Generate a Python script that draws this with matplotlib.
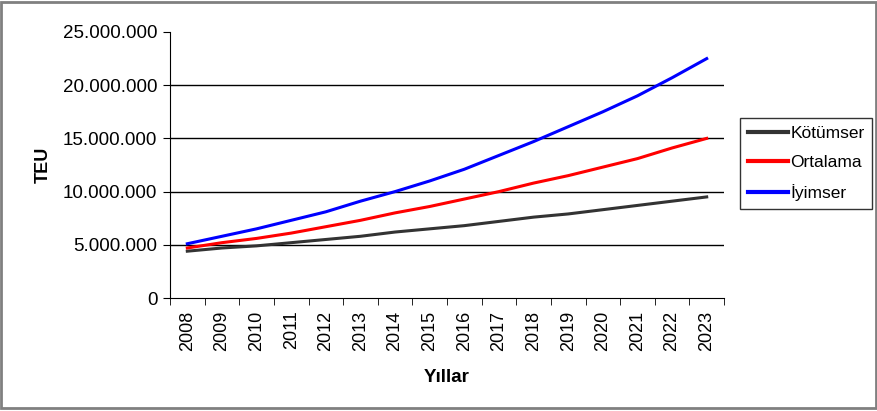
import matplotlib
matplotlib.use('Agg')
import matplotlib.pyplot as plt
from matplotlib.ticker import FuncFormatter, FixedLocator
from matplotlib.patches import Rectangle

plt.rcParams['font.family'] = ['Liberation Sans', 'DejaVu Sans']

years = [str(y) for y in range(2008, 2024)]
kotumser = [4.4, 4.7, 4.9, 5.2, 5.5, 5.8, 6.2, 6.5, 6.8, 7.2, 7.6, 7.9, 8.3, 8.7, 9.1, 9.5]
ortalama = [4.7, 5.2, 5.6, 6.1, 6.7, 7.3, 8.0, 8.6, 9.3, 10.0, 10.8, 11.5, 12.3, 13.1, 14.1, 15.0]
iyimser = [5.1, 5.8, 6.5, 7.3, 8.1, 9.1, 10.0, 11.0, 12.1, 13.4, 14.7, 16.1, 17.5, 19.0, 20.7, 22.5]

# milyon -> TEU
kotumser = [v * 1e6 for v in kotumser]
ortalama = [v * 1e6 for v in ortalama]
iyimser = [v * 1e6 for v in iyimser]

fig = plt.figure(figsize=(8.78, 4.11), dpi=100)
ax = fig.add_axes([170 / 878, 1 - 298 / 411, (724 - 170) / 878, (298 - 32) / 411])

x = list(range(len(years)))
ax.plot(x, kotumser, color='#333333', lw=2.2, label='Kötümser')
ax.plot(x, ortalama, color='#ff0000', lw=2.2, label='Ortalama')
ax.plot(x, iyimser, color='#0000ff', lw=2.2, label='İyimser')

ax.set_xlim(-0.5, len(years) - 0.5)
ax.set_ylim(0, 25e6)
ax.set_yticks([0, 5e6, 10e6, 15e6, 20e6, 25e6])
ax.yaxis.set_major_formatter(FuncFormatter(lambda v, p: f'{int(v):,}'.replace(',', '.')))
for g in [5e6, 10e6, 15e6, 20e6]:
    ax.axhline(g, color='black', lw=1, zorder=0)

ax.set_xticks(x)
ax.set_xticklabels(years, rotation=90)
ax.xaxis.set_minor_locator(FixedLocator([i - 0.5 for i in range(len(years) + 1)]))
ax.tick_params(axis='x', which='major', length=0, pad=9, labelsize=13)
ax.tick_params(axis='x', which='minor', length=5, direction='out', color='black')
ax.tick_params(axis='y', length=5, direction='out', labelsize=13.5, pad=4)

for s in ['top', 'right']:
    ax.spines[s].set_visible(False)
ax.spines['left'].set_color('black')
ax.spines['bottom'].set_color('black')

ax.set_ylabel('TEU', fontsize=13, fontweight='bold', labelpad=8)
ax.set_xlabel('Yıllar', fontsize=13.5, fontweight='bold', labelpad=13)

leg = ax.legend(loc='upper left', bbox_to_anchor=(740 / 878, 1 - 118 / 411),
                bbox_transform=fig.transFigure, fontsize=12.5, frameon=True,
                fancybox=False, handlelength=2.3, handletextpad=0.15,
                borderpad=0.45, labelspacing=0.8, borderaxespad=0)
leg.get_frame().set_edgecolor('black')
leg.get_frame().set_linewidth(1)
for h in leg.get_lines():
    h.set_linewidth(3)

fig.patches.append(Rectangle((1 / 878, 3 / 411), 875 / 878, 406 / 411, transform=fig.transFigure,
                             fill=False, edgecolor='#808080', lw=2))

fig.savefig('out.png', dpi=100)
